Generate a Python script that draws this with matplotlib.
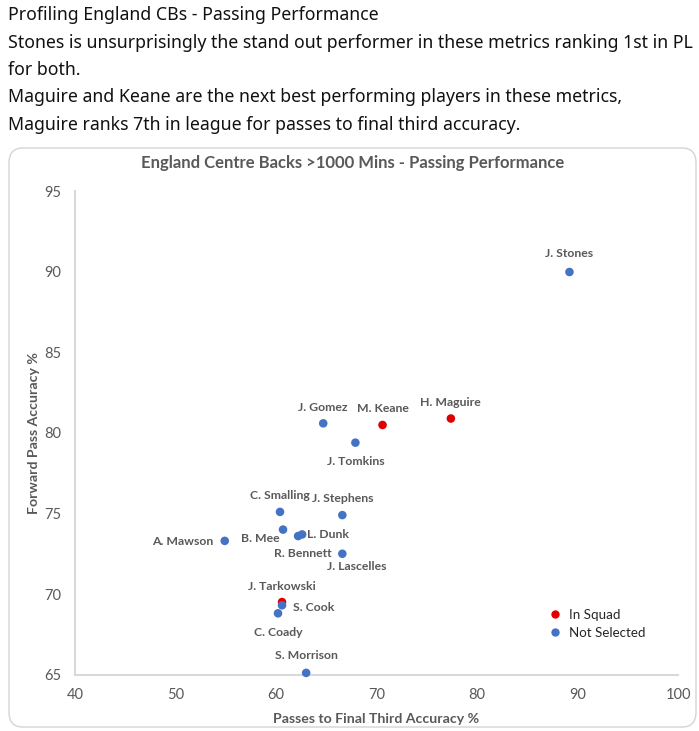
import matplotlib
matplotlib.use("Agg")
import matplotlib.pyplot as plt
from matplotlib.patches import FancyBboxPatch
from matplotlib.lines import Line2D

# Player data
players = ["J. Stones", "H. Maguire", "M. Keane", "J. Gomez", "J. Tomkins",
           "C. Smalling", "J. Stephens", "B. Mee", "L. Dunk", "R. Bennett",
           "J. Lascelles", "A. Mawson", "J. Tarkowski", "S. Cook", "C. Coady",
           "S. Morrison"]
final_third_acc = [89.2, 77.4, 70.6, 64.7, 67.9, 60.4, 66.6, 60.7, 62.6, 62.2,
                   66.6, 54.9, 60.6, 60.6, 60.2, 63.0]
forward_pass_acc = [90.0, 80.9, 80.5, 80.6, 79.4, 75.1, 74.9, 74.0, 73.7, 73.6,
                    72.5, 73.3, 69.5, 69.3, 68.8, 65.1]
status = ["Not Selected", "In Squad", "In Squad", "Not Selected", "Not Selected",
          "Not Selected", "Not Selected", "Not Selected", "Not Selected", "Not Selected",
          "Not Selected", "Not Selected", "In Squad", "Not Selected", "Not Selected",
          "Not Selected"]

header_lines = [
    "Profiling England CBs - Passing Performance",
    "Stones is unsurprisingly the stand out performer in these metrics ranking 1st in PL",
    "for both.",
    "Maguire and Keane are the next best performing players in these metrics,",
    "Maguire ranks 7th in league for passes to final third accuracy.",
]

colors = {"In Squad": "#E00000", "Not Selected": "#4472C4"}
grey = "#595959"

# label offsets in pixels (dx, dy, ha) relative to each point
label_pos = {
    "J. Stones": (0, 18, "center"),
    "H. Maguire": (0, 16, "center"),
    "M. Keane": (0, 16, "center"),
    "J. Gomez": (0, 16, "center"),
    "J. Tomkins": (0, -19, "center"),
    "C. Smalling": (0, 16, "center"),
    "J. Stephens": (0, 17, "center"),
    "B. Mee": (-3, -9, "right"),
    "L. Dunk": (5, 0, "left"),
    "R. Bennett": (34, -17, "right"),
    "J. Lascelles": (14, -13, "center"),
    "A. Mawson": (-11, -1, "right"),
    "J. Tarkowski": (0, 16, "center"),
    "S. Cook": (11, -2, "left"),
    "C. Coady": (0, -19, "center"),
    "S. Morrison": (0, 17, "center"),
}

W, H = 699, 731
fig = plt.figure(figsize=(W / 100, H / 100), dpi=100)
fig.patch.set_facecolor("white")

# tweet text above the chart
for i, line in enumerate(header_lines):
    fig.text(8 / W, 1 - (15 + i * 27.5) / H, line, fontsize=12.75,
             family="Noto Sans", color="#111111", va="center", ha="left")

# rounded chart frame
frame = FancyBboxPatch((9 / W, 4 / H), 687 / W, (H - 152) / H,
                       boxstyle="round,pad=0,rounding_size=0.02",
                       transform=fig.transFigure, facecolor="white",
                       edgecolor="#D4D4D4", linewidth=1.0, zorder=-5)
fig.patches.append(frame)

ax = fig.add_axes([75 / W, 1 - 674.5 / H, 603 / W, (674.5 - 191.5) / H])
ax.patch.set_alpha(0)
ax.set_xlim(40, 100)
ax.set_ylim(65, 95)
ax.set_xticks(range(40, 101, 10))
ax.set_yticks(range(65, 96, 5))

for name, x, y, st in zip(players, final_third_acc, forward_pass_acc, status):
    ax.scatter(x, y, s=38, color=colors[st], zorder=3, edgecolors="none", clip_on=False)
    dx, dy, ha = label_pos[name]
    ax.annotate(name, (x, y), xytext=(dx * 0.72, dy * 0.72), textcoords="offset points",
                ha=ha, va="center", fontsize=8.8, fontweight="bold", family="Lato",
                color=grey)

for side in ["top", "right"]:
    ax.spines[side].set_visible(False)
for side in ["left", "bottom"]:
    ax.spines[side].set_color("#D9D9D9")
    ax.spines[side].set_linewidth(1.5)
ax.tick_params(length=0, labelsize=10.5, labelcolor=grey, pad=10)
for lbl in ax.get_xticklabels() + ax.get_yticklabels():
    lbl.set_family("Lato")

ax.set_xlabel("Passes to Final Third Accuracy %", fontsize=10.2, fontweight="bold",
              family="Lato", color=grey, labelpad=7.5)
ax.set_ylabel("Forward Pass Accuracy %", fontsize=10.2, fontweight="bold",
              family="Lato", color=grey, labelpad=3)

fig.text(353 / W, 1 - 163 / H, "England Centre Backs >1000 Mins - Passing Performance",
         fontsize=12, fontweight="bold", family="Lato", color=grey,
         ha="center", va="center")

handles = [Line2D([], [], marker="o", linestyle="none", markersize=6,
                  markerfacecolor=colors[k], markeredgecolor="none", label=k)
           for k in ["In Squad", "Not Selected"]]
leg = fig.legend(handles=handles, loc="center left",
                 bbox_to_anchor=(542 / W, 1 - 624 / H), frameon=False,
                 prop={"family": "Lato", "size": 9.6}, handlelength=1.0,
                 handletextpad=0.5, labelspacing=0.45, borderpad=0)
for t in leg.get_texts():
    t.set_color("#262626")

fig.savefig("out.png", dpi=100)
